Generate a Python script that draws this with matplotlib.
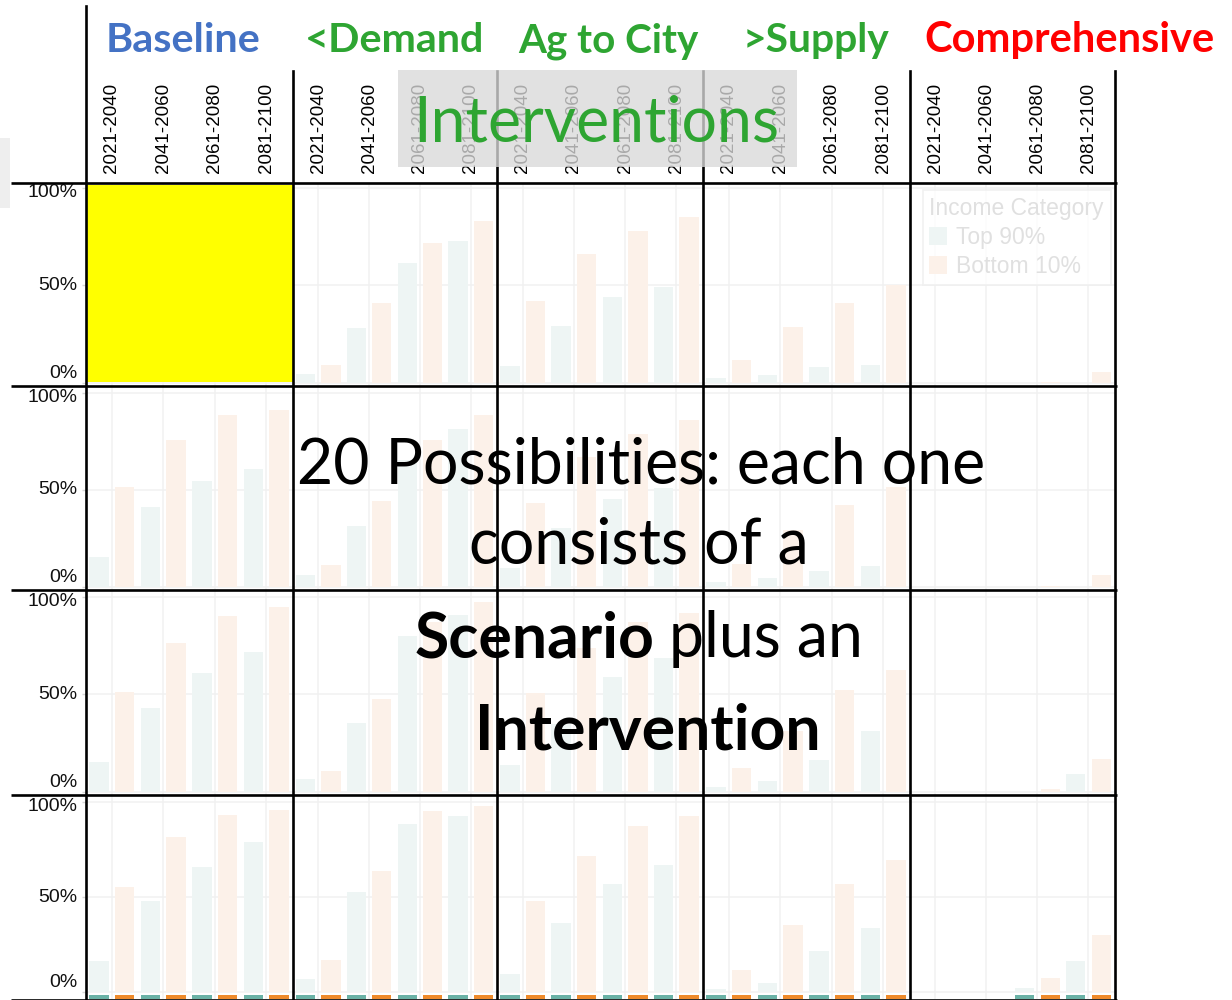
import matplotlib
matplotlib.use("Agg")
import matplotlib.pyplot as plt
import matplotlib.transforms as mtransforms
from matplotlib.patches import Rectangle, Patch
from matplotlib.lines import Line2D
import numpy as np

# ---------------- data ----------------
periods = ["2021-2040", "2041-2060", "2061-2080", "2081-2100"]
interventions = ["Baseline", "<Demand", "Ag to City", ">Supply", "Comprehensive"]
income_categories = ["Top 90%", "Bottom 10%"]
y_ticks = [0.0, 0.5, 1.0]
y_tick_labels = ["0%", "50%", "100%"]

# one list per scenario row; inner lists per intervention column (periods in order)
top90_row1 = [[], [0.046, 0.28, 0.615, 0.73], [0.087, 0.29, 0.44, 0.49],
              [0.027, 0.041, 0.082, 0.092], [0, 0, 0, 0]]
bot10_row1 = [[], [0.09, 0.41, 0.72, 0.83], [0.42, 0.66, 0.78, 0.85],
              [0.118, 0.287, 0.41, 0.50], [0, 0, 0.005, 0.058]]

top90_row2 = [[0.156, 0.414, 0.546, 0.608], [0.062, 0.316, 0.655, 0.814],
              [0.095, 0.303, 0.455, 0.51], [0.027, 0.048, 0.084, 0.11], [0, 0, 0, 0]]
bot10_row2 = [[0.517, 0.758, 0.888, 0.912], [0.113, 0.443, 0.758, 0.888],
              [0.435, 0.668, 0.79, 0.86], [0.118, 0.294, 0.423, 0.514], [0, 0, 0.005, 0.062]]

top90_row3 = [[0.154, 0.432, 0.609, 0.715], [0.064, 0.352, 0.80, 0.908],
              [0.137, 0.35, 0.591, 0.689], [0.026, 0.055, 0.163, 0.314], [0, 0, 0, 0.091]]
bot10_row3 = [[0.514, 0.766, 0.905, 0.951], [0.108, 0.477, 0.874, 0.972],
              [0.506, 0.74, 0.874, 0.917], [0.12, 0.31, 0.523, 0.626], [0, 0, 0.012, 0.17]]

top90_row4 = [[0.163, 0.48, 0.658, 0.789], [0.068, 0.526, 0.886, 0.928],
              [0.095, 0.363, 0.568, 0.668], [0.016, 0.047, 0.216, 0.337], [0, 0, 0.021, 0.163]]
bot10_row4 = [[0.553, 0.816, 0.932, 0.958], [0.168, 0.639, 0.953, 0.979],
              [0.479, 0.716, 0.874, 0.926], [0.116, 0.353, 0.568, 0.695], [0, 0, 0.074, 0.30]]

# ---------------- layout / style ----------------
W, H = 1232, 1000
fig = plt.figure(figsize=(W / 100, H / 100), dpi=100)
fig.patch.set_facecolor("white")


def fx(x):
    return x / W


def fy(y):
    return 1 - y / H


col_edges = [86, 293, 497, 703, 910, 1115]
row_edges = [183, 386, 590, 795, 999]
hline_y = [183, 386, 590, 795, 999.6]
row_ylims = [(-0.016, 1.026), (-0.016, 1.036), (-0.017, 1.036), (-0.037, 1.037)]

TEAL_FADED = "#EEF5F4"
ORANGE_FADED = "#FCF1E9"
TEAL = "#6AB2A6"
ORANGE = "#EE8A2B"
GRID = "#F1F1F1"
GREEN = "#2EA532"
BLUE = "#4472C4"
RED = "#FF0000"
LINE_LW = 1.9

top_rows = [top90_row1, top90_row2, top90_row3, top90_row4]
bot_rows = [bot10_row1, bot10_row2, bot10_row3, bot10_row4]

xpos = np.arange(1, len(periods) + 1)
bar_w = 0.38
off = 0.25
label_shift = {1.0: -4.5, 0.5: 0.0, 0.0: 9.0}

for r in range(4):
    for c in range(5):
        l, rr = col_edges[c], col_edges[c + 1]
        t, b = row_edges[r], row_edges[r + 1]
        ax = fig.add_axes([fx(l), fy(b), (rr - l) / W, (b - t) / H])
        ax.set_facecolor("white")
        ax.set_xlim(0.5, 4.52)
        ax.set_ylim(*row_ylims[r])
        for s in ax.spines.values():
            s.set_visible(False)
        ax.set_xticks(xpos)
        ax.set_yticks(y_ticks)
        ax.grid(True, color=GRID, lw=1.1)
        ax.set_axisbelow(True)
        tv = np.array(top_rows[r][c], dtype=float)
        bv = np.array(bot_rows[r][c], dtype=float)
        if tv.size:
            ax.bar(xpos - off, tv, bar_w, color=TEAL_FADED, linewidth=0)
            ax.bar(xpos + off, bv, bar_w, color=ORANGE_FADED, linewidth=0)
            if r == 3:
                ax.bar(xpos - off, np.where(tv > 0, 0.019, 0), bar_w, bottom=-0.036,
                       color=TEAL, linewidth=0)
                ax.bar(xpos + off, np.where(bv > 0, 0.019, 0), bar_w, bottom=-0.036,
                       color=ORANGE, linewidth=0)
        # x labels only on top row, at top
        if r == 0:
            ax.xaxis.tick_top()
            ax.set_xticklabels(periods, rotation=90, fontsize=13.5,
                               fontfamily="Liberation Sans", va="bottom", ha="center")
            ax.tick_params(axis="x", length=0, pad=7, top=True, labeltop=True,
                           bottom=False, labelbottom=False)
        else:
            ax.tick_params(axis="x", length=0, labelbottom=False, labeltop=False)
        # y labels only in first column
        ax.set_yticklabels([])
        if c == 0:
            ax.tick_params(axis="y", length=3, color="#D6D6D6", width=1)
            bt = mtransforms.blended_transform_factory(fig.transFigure, ax.transData)
            for v, lab in zip(y_ticks, y_tick_labels):
                tr = bt + mtransforms.ScaledTranslation(0, label_shift[v] / 100.0,
                                                        fig.dpi_scale_trans)
                ax.text(fx(77.5), v, lab, transform=tr, ha="right", va="center",
                        fontsize=14, fontfamily="Liberation Sans", color="#111111",
                        clip_on=False)
        else:
            ax.tick_params(axis="y", length=0)

# light gray patch at far left
fig.add_artist(Rectangle((fx(0), fy(208)), 10 / W, 70 / H, transform=fig.transFigure,
                         facecolor="#EEEEEE", edgecolor="none", zorder=1))
# yellow highlight over Baseline / first row panel
fig.add_artist(Rectangle((fx(86), fy(382)), (294 - 86) / W, (382 - 185) / H,
                         transform=fig.transFigure, facecolor="#FFFF00",
                         edgecolor="none", zorder=1))

# black grid lines
for y in hline_y:
    fig.add_artist(Line2D([fx(11), fx(1117)], [fy(y), fy(y)], transform=fig.transFigure,
                          color="black", lw=LINE_LW, zorder=2, solid_capstyle="butt"))
fig.add_artist(Line2D([fx(86), fx(86)], [fy(6), fy(1000)], transform=fig.transFigure,
                      color="black", lw=LINE_LW, zorder=2))
for x in col_edges[1:]:
    fig.add_artist(Line2D([fx(x), fx(x)], [fy(71), fy(1000)], transform=fig.transFigure,
                          color="black", lw=LINE_LW, zorder=2))

# legend (faded)
handles = [Patch(facecolor=TEAL_FADED, edgecolor="none", label=income_categories[0]),
           Patch(facecolor=ORANGE_FADED, edgecolor="none", label=income_categories[1])]
leg = fig.legend(handles=handles, title="Income Category", loc="upper left",
                 bbox_to_anchor=(fx(922.5), fy(190)), bbox_transform=fig.transFigure,
                 prop={"family": "Liberation Sans", "size": 16.5},
                 title_fontproperties={"family": "Liberation Sans", "size": 16.5},
                 alignment="left", handlelength=0.75, handleheight=0.8,
                 handletextpad=0.4, labelspacing=0.26, borderpad=0.3,
                 borderaxespad=0, fancybox=False, frameon=True)
leg.get_frame().set_edgecolor("#EEEEEE")
leg.get_frame().set_linewidth(1.2)
for tt in leg.get_texts():
    tt.set_color("#E0E0E0")
leg.get_title().set_color("#E0E0E0")
leg.set_zorder(3)

# gray "Interventions" box
fig.add_artist(Rectangle((fx(398), fy(167)), (797 - 398) / W, (167 - 70) / H,
                         transform=fig.transFigure, facecolor="#D9D9D9", alpha=0.78,
                         edgecolor="none", zorder=5))

FONT = "Lato"


def ftext(x, y, s, color="black", weight="normal", size=30, ha="left"):
    t = fig.text(fx(x), fy(y), s, color=color, fontweight=weight, fontsize=size,
                 fontfamily=FONT, ha=ha, va="baseline", zorder=6)
    return t


header_colors = [BLUE, GREEN, GREEN, GREEN, RED]
header_left = [106, 304.5, 518, 743, 924.6]
header_width = [155, 180, 181, 147, 290.5]
headers = []
for name, colr, xl, wd in zip(interventions, header_colors, header_left, header_width):
    headers.append((ftext(xl, 52, name, color=colr, weight="bold", size=32), wd))

t_int = ftext(413, 142, "Interventions", color=GREEN, size=46)

line1 = ftext(641, 483, "20 Possibilities: each one", size=46, ha="center")
line2 = ftext(639, 563, "consists of a", size=46, ha="center")
line3a = ftext(412, 657, "Scenario", weight="bold", size=46)
line3b = ftext(600, 657, "plus an", size=46)
line4 = ftext(648, 750, "Intervention", weight="bold", size=46, ha="center")

renderer = fig.canvas.get_renderer()


def fit(t, target):
    w = t.get_window_extent(renderer).width
    t.set_fontsize(t.get_fontsize() * target / w)


for t, wd in headers:
    fit(t, wd)
fit(t_int, 366)
fit(line1, 688)
size = line1.get_fontsize()
for t in (line2, line3a, line3b, line4):
    t.set_fontsize(size)
wa = line3a.get_window_extent(renderer).width
wb = line3b.get_window_extent(renderer).width
space = 0.23 * size * 100 / 72
total = wa + space + wb
start = 639 - total / 2
line3a.set_x(fx(start))
line3b.set_x(fx(start + wa + space))

fig.savefig("out.png", dpi=100)
